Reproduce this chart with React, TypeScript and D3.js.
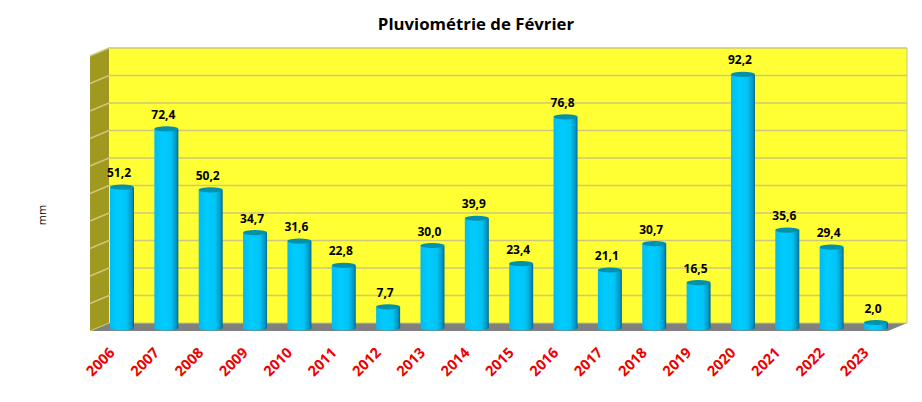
import React from "react";
import * as d3 from "d3";

const years = ["2006","2007","2008","2009","2010","2011","2012","2013","2014","2015","2016","2017","2018","2019","2020","2021","2022","2023"];
const rainfall = [51.2,72.4,50.2,34.7,31.6,22.8,7.7,30.0,39.9,23.4,76.8,21.1,30.7,16.5,92.2,35.6,29.4,2.0];
const gridValues = [0,10,20,30,40,50,60,70,80,90,100];

const W = 922, H = 402;
const wallL = 109, wallR = 907, wallT = 48, wallB = 323;
const dx = 19, dy = 8;
const x = d3.scalePoint<string>().domain(years).range([122, 876]);
const yBack = d3.scaleLinear().domain([0, 100]).range([wallB, wallT]);
const yBar = d3.scaleLinear().domain([0, 100]).range([328, 53]);
const barW = 24;
const ry = 2.6;
const font = "'Open Sans', 'Noto Sans', sans-serif";
const fmt = (v: number) => v.toFixed(1).replace(".", ",");

export default function App() {
  return (
    <svg width={W} height={H} style={{ position: "absolute", left: 0, top: 0, background: "#fff" }} fontFamily={font}>
      <defs>
        <linearGradient id="cyl" x1="0" x2="1" y1="0" y2="0">
          <stop offset="0" stopColor="#00bdf0" />
          <stop offset="0.35" stopColor="#00ccff" />
          <stop offset="0.7" stopColor="#00c4f5" />
          <stop offset="0.9" stopColor="#0098c4" />
          <stop offset="1" stopColor="#00688c" />
        </linearGradient>
      </defs>
      <text x={476} y={30} textAnchor="middle" fontSize={16.8} fontWeight={700} fill="#000">Pluviométrie de Février</text>
      <text transform="translate(46,215) rotate(-90)" textAnchor="middle" fontSize={11} fill="#000">mm</text>

      <rect x={wallL} y={wallT} width={wallR - wallL} height={wallB - wallT} fill="#ffff33" />
      <path d={`M${wallL},${wallT} L${wallL - dx},${wallT + dy} L${wallL - dx},${wallB + dy} L${wallL},${wallB} Z`} fill="#a0991f" />
      <path d={`M${wallL},${wallB} L${wallR},${wallB} L${wallR - dx},${wallB + dy} L${wallL - dx},${wallB + dy} Z`} fill="#808080" />
      {gridValues.map((g) => (
        <path key={g} d={`M${wallL - dx},${yBack(g) + dy} L${wallL},${yBack(g)} L${wallR},${yBack(g)}`} fill="none" stroke="#cdc97a" strokeWidth={g === 0 ? 1 : 1.5} />
      ))}
      <path d={`M${wallR},${wallT} L${wallR},${wallB}`} stroke="#cdc97a" strokeWidth={1} />

      {years.map((yr, i) => {
        const v = rainfall[i];
        const cx = x(yr)!;
        const top = yBar(v);
        const bot = yBar(0);
        const l = cx - barW / 2, r = cx + barW / 2;
        return (
          <g key={yr}>
            <path d={`M${l},${top} L${l},${bot} A${barW / 2},${ry} 0 0 0 ${r},${bot} L${r},${top} Z`} fill="url(#cyl)" />
            <ellipse cx={cx} cy={top} rx={barW / 2} ry={ry} fill="#0091ad" />
            <text x={cx - 3} y={top - 10} textAnchor="middle" fontSize={12} fontWeight={700} fill="#000">{fmt(v)}</text>
            <text transform={`translate(${cx - 9},${351}) rotate(-45)`} textAnchor="end" dominantBaseline="middle" fontSize={14.5} fontWeight={700} fill="#ee0000">{yr}</text>
          </g>
        );
      })}
    </svg>
  );
}
